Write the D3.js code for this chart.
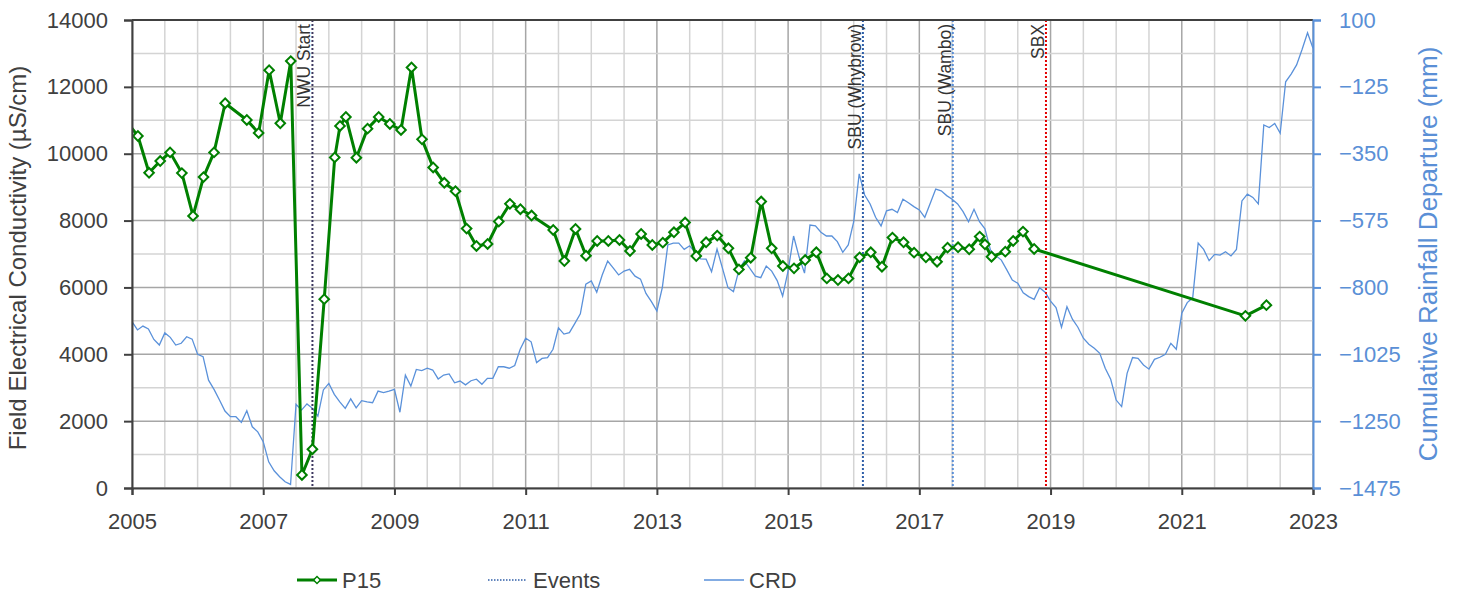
<!DOCTYPE html>
<html>
<head>
<meta charset="utf-8">
<script src="https://cdn.jsdelivr.net/npm/d3@7"></script>
<style>
  html, body { margin: 0; padding: 0; background: #ffffff; }
  svg { display: block; font-family: "Liberation Sans", Arial, sans-serif; }
</style>
</head>
<body>
<svg id="chart" width="1462" height="592"></svg>
<script>
// ---------------- DATA ----------------
// P15 sampling dates (decimal years) and field EC (µS/cm)
const p15Dates = [2004.92, 2005.09, 2005.26, 2005.43, 2005.58, 2005.76, 2005.93, 2006.09, 2006.25, 2006.42,
  2006.75, 2006.93, 2007.09, 2007.26, 2007.42, 2007.59, 2007.75, 2007.93, 2008.09, 2008.17,
  2008.26, 2008.42, 2008.59, 2008.76, 2008.93, 2009.10, 2009.26, 2009.42, 2009.59, 2009.76,
  2009.93, 2010.10, 2010.25, 2010.42, 2010.59, 2010.76, 2010.92, 2011.09, 2011.42, 2011.59,
  2011.76, 2011.92, 2012.09, 2012.26, 2012.43, 2012.59, 2012.76, 2012.93, 2013.09, 2013.26,
  2013.43, 2013.60, 2013.75, 2013.92, 2014.09, 2014.25, 2014.43, 2014.59, 2014.75, 2014.92,
  2015.09, 2015.26, 2015.43, 2015.59, 2015.76, 2015.92, 2016.09, 2016.26, 2016.43, 2016.59,
  2016.76, 2016.92, 2017.10, 2017.27, 2017.43, 2017.59, 2017.76, 2017.92, 2018.00, 2018.10,
  2018.31, 2018.43, 2018.58, 2018.75, 2021.97, 2022.29];
const p15Values = [10960, 10530, 9430, 9780, 10040, 9420, 8140, 9300, 10040, 11510,
  11010, 10620, 12500, 10910, 12770, 390, 1160, 5650, 9890, 10830,
  11100, 9880, 10750, 11100, 10890, 10710, 12580, 10430, 9590, 9130,
  8880, 7760, 7240, 7300, 7970, 8500, 8340, 8150, 7720, 6790,
  7750, 6950, 7390, 7390, 7420, 7090, 7600, 7270, 7340, 7650,
  7940, 6940, 7350, 7550, 7170, 6540, 6890, 8570, 7170, 6640,
  6570, 6820, 7050, 6270, 6220, 6270, 6900, 7050, 6620, 7490,
  7350, 7040, 6900, 6770, 7190, 7200, 7140, 7520, 7290, 6920,
  7070, 7390, 7670, 7150, 5150, 5470];

// Cumulative rainfall departure (mm), monthly from Jan 2005 to Jan 2023
const crdStart = 2005;
const crdValues = [-915, -943, -930, -940, -975, -994, -953, -968, -994, -988, -966, -974,
  -1025, -1033, -1112, -1143, -1179, -1216, -1235, -1235, -1254, -1215, -1269, -1286,
  -1319, -1387, -1417, -1437, -1454, -1463, -1193, -1213, -1192, -1207, -1233, -1145,
  -1123, -1160, -1185, -1207, -1175, -1205, -1181, -1185, -1188, -1149, -1154, -1149,
  -1143, -1220, -1095, -1132, -1076, -1080, -1072, -1078, -1108, -1095, -1091, -1121,
  -1115, -1128, -1114, -1109, -1126, -1106, -1106, -1067, -1067, -1072, -1063, -1008,
  -971, -983, -1053, -1039, -1036, -1008, -936, -957, -952, -921, -889, -789,
  -778, -816, -758, -711, -734, -758, -745, -739, -762, -772, -820, -848,
  -879, -800, -657, -651, -651, -672, -660, -683, -704, -705, -747, -671,
  -736, -801, -814, -741, -711, -736, -762, -767, -728, -745, -777, -829,
  -744, -627, -697, -752, -590, -593, -614, -627, -627, -646, -682, -657,
  -579, -418, -489, -519, -564, -593, -542, -537, -548, -503, -515, -528,
  -539, -564, -517, -469, -475, -491, -503, -519, -545, -579, -537, -579,
  -603, -674, -693, -708, -741, -775, -786, -818, -831, -840, -801, -816,
  -846, -868, -934, -865, -907, -934, -971, -991, -1005, -1022, -1072, -1109,
  -1179, -1201, -1089, -1036, -1039, -1061, -1075, -1042, -1035, -1025, -988, -1008,
  -887, -851, -835, -651, -672, -710, -689, -691, -680, -694, -672, -509,
  -486, -497, -519, -253, -262, -248, -281, -108, -82, -51, 1, 57, 5];

// Events (vertical markers)
const eventNames = ["NWU Start", "SBU (Whybrow)", "SBU (Wambo)", "SBX"];
const eventDates = [2007.75, 2016.14, 2017.51, 2018.93];
const eventColors = ["#3d3860", "#2f5ea8", "#5b8fd6", "#e30000"];

// Axis ticks
const xTickYears = [2005, 2007, 2009, 2011, 2013, 2015, 2017, 2019, 2021, 2023];
const yLeftTicks = [0, 2000, 4000, 6000, 8000, 10000, 12000, 14000];
const yRightTicks = [100, -125, -350, -575, -800, -1025, -1250, -1475];

// Legend
const legendLabels = ["P15", "Events", "CRD"];

// ---------------- LAYOUT ----------------
const svg = d3.select("#chart");
const plot = { left: 132, right: 1313, top: 20, bottom: 488 };
const green = "#008000";
const blue = "#5a91da";
const blueText = "#5a8fd6";
const darkText = "#404040";

const x = d3.scaleLinear().domain([2005, 2023]).range([plot.left, plot.right]);
const yL = d3.scaleLinear().domain([0, 14000]).range([plot.bottom, plot.top]);
const yR = d3.scaleLinear().domain([-1475, 100]).range([plot.bottom, plot.top]);

svg.append("defs").append("clipPath").attr("id", "clip")
  .append("rect").attr("x", plot.left).attr("y", plot.top - 6)
  .attr("width", plot.right - plot.left).attr("height", plot.bottom - plot.top + 12);
svg.append("defs").append("clipPath").attr("id", "clipLine")
  .append("rect").attr("x", plot.left).attr("y", plot.top)
  .attr("width", plot.right - plot.left).attr("height", plot.bottom - plot.top);

// ---- gridlines ----
const grid = svg.append("g");
const minorX = d3.range(2005, 2023.01, 0.5);
grid.selectAll("line.vx").data(minorX).enter().append("line")
  .attr("x1", d => x(d)).attr("x2", d => x(d))
  .attr("y1", plot.top).attr("y2", plot.bottom)
  .attr("stroke", d => (Math.round(d) === d && (d - 2005) % 2 === 0) ? "#a6a6a6" : "#d4d4d4")
  .attr("stroke-width", 1.5);
const minorY = d3.range(0, 14001, 1000);
grid.selectAll("line.hy").data(minorY).enter().append("line")
  .attr("x1", plot.left).attr("x2", plot.right)
  .attr("y1", d => yL(d)).attr("y2", d => yL(d))
  .attr("stroke", d => d % 2000 === 0 ? "#a6a6a6" : "#d4d4d4")
  .attr("stroke-width", 1.5);

// ---- CRD line ----
const crdData = crdValues.map((v, i) => ({ t: crdStart + i / 12, v }));
svg.append("path").datum(crdData)
  .attr("clip-path", "url(#clip)")
  .attr("fill", "none").attr("stroke", blue).attr("stroke-width", 1.3)
  .attr("d", d3.line().x(d => x(d.t)).y(d => yR(d.v)));

// ---- events ----
const ev = svg.append("g");
eventDates.forEach((d, i) => {
  ev.append("line")
    .attr("x1", x(d)).attr("x2", x(d)).attr("y1", plot.top).attr("y2", plot.bottom)
    .attr("stroke", eventColors[i]).attr("stroke-width", 2)
    .attr("stroke-dasharray", "2,2");
  ev.append("text")
    .attr("transform", `translate(${x(d) - 2},${plot.top + 4}) rotate(-90)`)
    .attr("text-anchor", "end")
    .attr("font-size", 17.5).attr("fill", "#333333")
    .text(eventNames[i]);
});

// ---- P15 line ----
const p15Data = p15Dates.map((t, i) => ({ t, v: p15Values[i] }));
svg.append("path").datum(p15Data)
  .attr("clip-path", "url(#clipLine)")
  .attr("fill", "none").attr("stroke", green).attr("stroke-width", 3)
  .attr("stroke-linejoin", "round")
  .attr("d", d3.line().x(d => x(d.t)).y(d => yL(d.v)));
const diamond = d3.symbol().type(d3.symbolSquare).size(46);
svg.append("g").attr("clip-path", "url(#clip)")
  .selectAll("path").data(p15Data.filter(d => d.t >= 2005)).enter().append("path")
  .attr("d", diamond)
  .attr("transform", d => `translate(${x(d.t)},${yL(d.v)}) rotate(45)`)
  .attr("fill", "#ffffff").attr("stroke", green).attr("stroke-width", 2);

// ---- axes frame ----
svg.append("line").attr("x1", plot.left).attr("x2", plot.right).attr("y1", plot.top).attr("y2", plot.top)
  .attr("stroke", "#404040").attr("stroke-width", 2);

const xAxis = svg.append("g").attr("transform", `translate(0,${plot.bottom})`)
  .call(d3.axisBottom(x).tickValues(xTickYears).tickFormat(d3.format("d")).tickSize(7).tickPadding(18));
xAxis.select(".domain").attr("stroke", "#404040").attr("stroke-width", 2);
xAxis.selectAll(".tick line").attr("stroke", "#404040").attr("stroke-width", 2);
xAxis.selectAll("text").attr("font-size", 22).attr("fill", darkText)
  .attr("font-family", "Liberation Sans, Arial, sans-serif");

const yAxisL = svg.append("g").attr("transform", `translate(${plot.left},0)`)
  .call(d3.axisLeft(yL).tickValues(yLeftTicks).tickFormat(d3.format("d")).tickSize(8).tickPadding(16));
yAxisL.select(".domain").attr("stroke", "#404040").attr("stroke-width", 2);
yAxisL.selectAll(".tick line").attr("stroke", "#404040").attr("stroke-width", 2);
yAxisL.selectAll("text").attr("font-size", 22).attr("fill", darkText)
  .attr("font-family", "Liberation Sans, Arial, sans-serif");

const yAxisR = svg.append("g").attr("transform", `translate(${plot.right},0)`)
  .call(d3.axisRight(yR).tickValues(yRightTicks).tickFormat(d3.format("d")).tickSize(8).tickPadding(18));
yAxisR.select(".domain").attr("stroke", blue).attr("stroke-width", 2);
yAxisR.selectAll(".tick line").attr("stroke", blue).attr("stroke-width", 2);
yAxisR.selectAll("text").attr("font-size", 22).attr("fill", blueText)
  .attr("font-family", "Liberation Sans, Arial, sans-serif");

// ---- axis titles ----
svg.append("text")
  .attr("transform", `translate(26,${(plot.top + plot.bottom) / 2 + 4}) rotate(-90)`)
  .attr("text-anchor", "middle").attr("font-size", 24).attr("fill", darkText)
  .text("Field Electrical Conductivity (µS/cm)");
svg.append("text")
  .attr("transform", `translate(1437,${(plot.top + plot.bottom) / 2}) rotate(-90)`)
  .attr("text-anchor", "middle").attr("font-size", 26).attr("fill", blueText)
  .text("Cumulative Rainfall Departure (mm)");

// ---- legend ----
const legendY = 580;
const leg = svg.append("g");
const legX = [297, 488, 704];
// P15
leg.append("line").attr("x1", legX[0]).attr("x2", legX[0] + 40).attr("y1", legendY).attr("y2", legendY)
  .attr("stroke", green).attr("stroke-width", 3);
leg.append("path").attr("d", d3.symbol().type(d3.symbolSquare).size(24))
  .attr("transform", `translate(${legX[0] + 20},${legendY}) rotate(45)`)
  .attr("fill", "#ffffff").attr("stroke", green).attr("stroke-width", 1.5);
// Events
leg.append("line").attr("x1", legX[1]).attr("x2", legX[1] + 38).attr("y1", legendY).attr("y2", legendY)
  .attr("stroke", "#2f5ea8").attr("stroke-width", 1.5).attr("stroke-dasharray", "1.5,1.5");
// CRD
leg.append("line").attr("x1", legX[2]).attr("x2", legX[2] + 40).attr("y1", legendY).attr("y2", legendY)
  .attr("stroke", blue).attr("stroke-width", 1.5);
legendLabels.forEach((l, i) => {
  leg.append("text").attr("x", legX[i] + 45).attr("y", legendY + 8)
    .attr("font-size", 22).attr("fill", darkText).text(l);
});
</script>
</body>
</html>
